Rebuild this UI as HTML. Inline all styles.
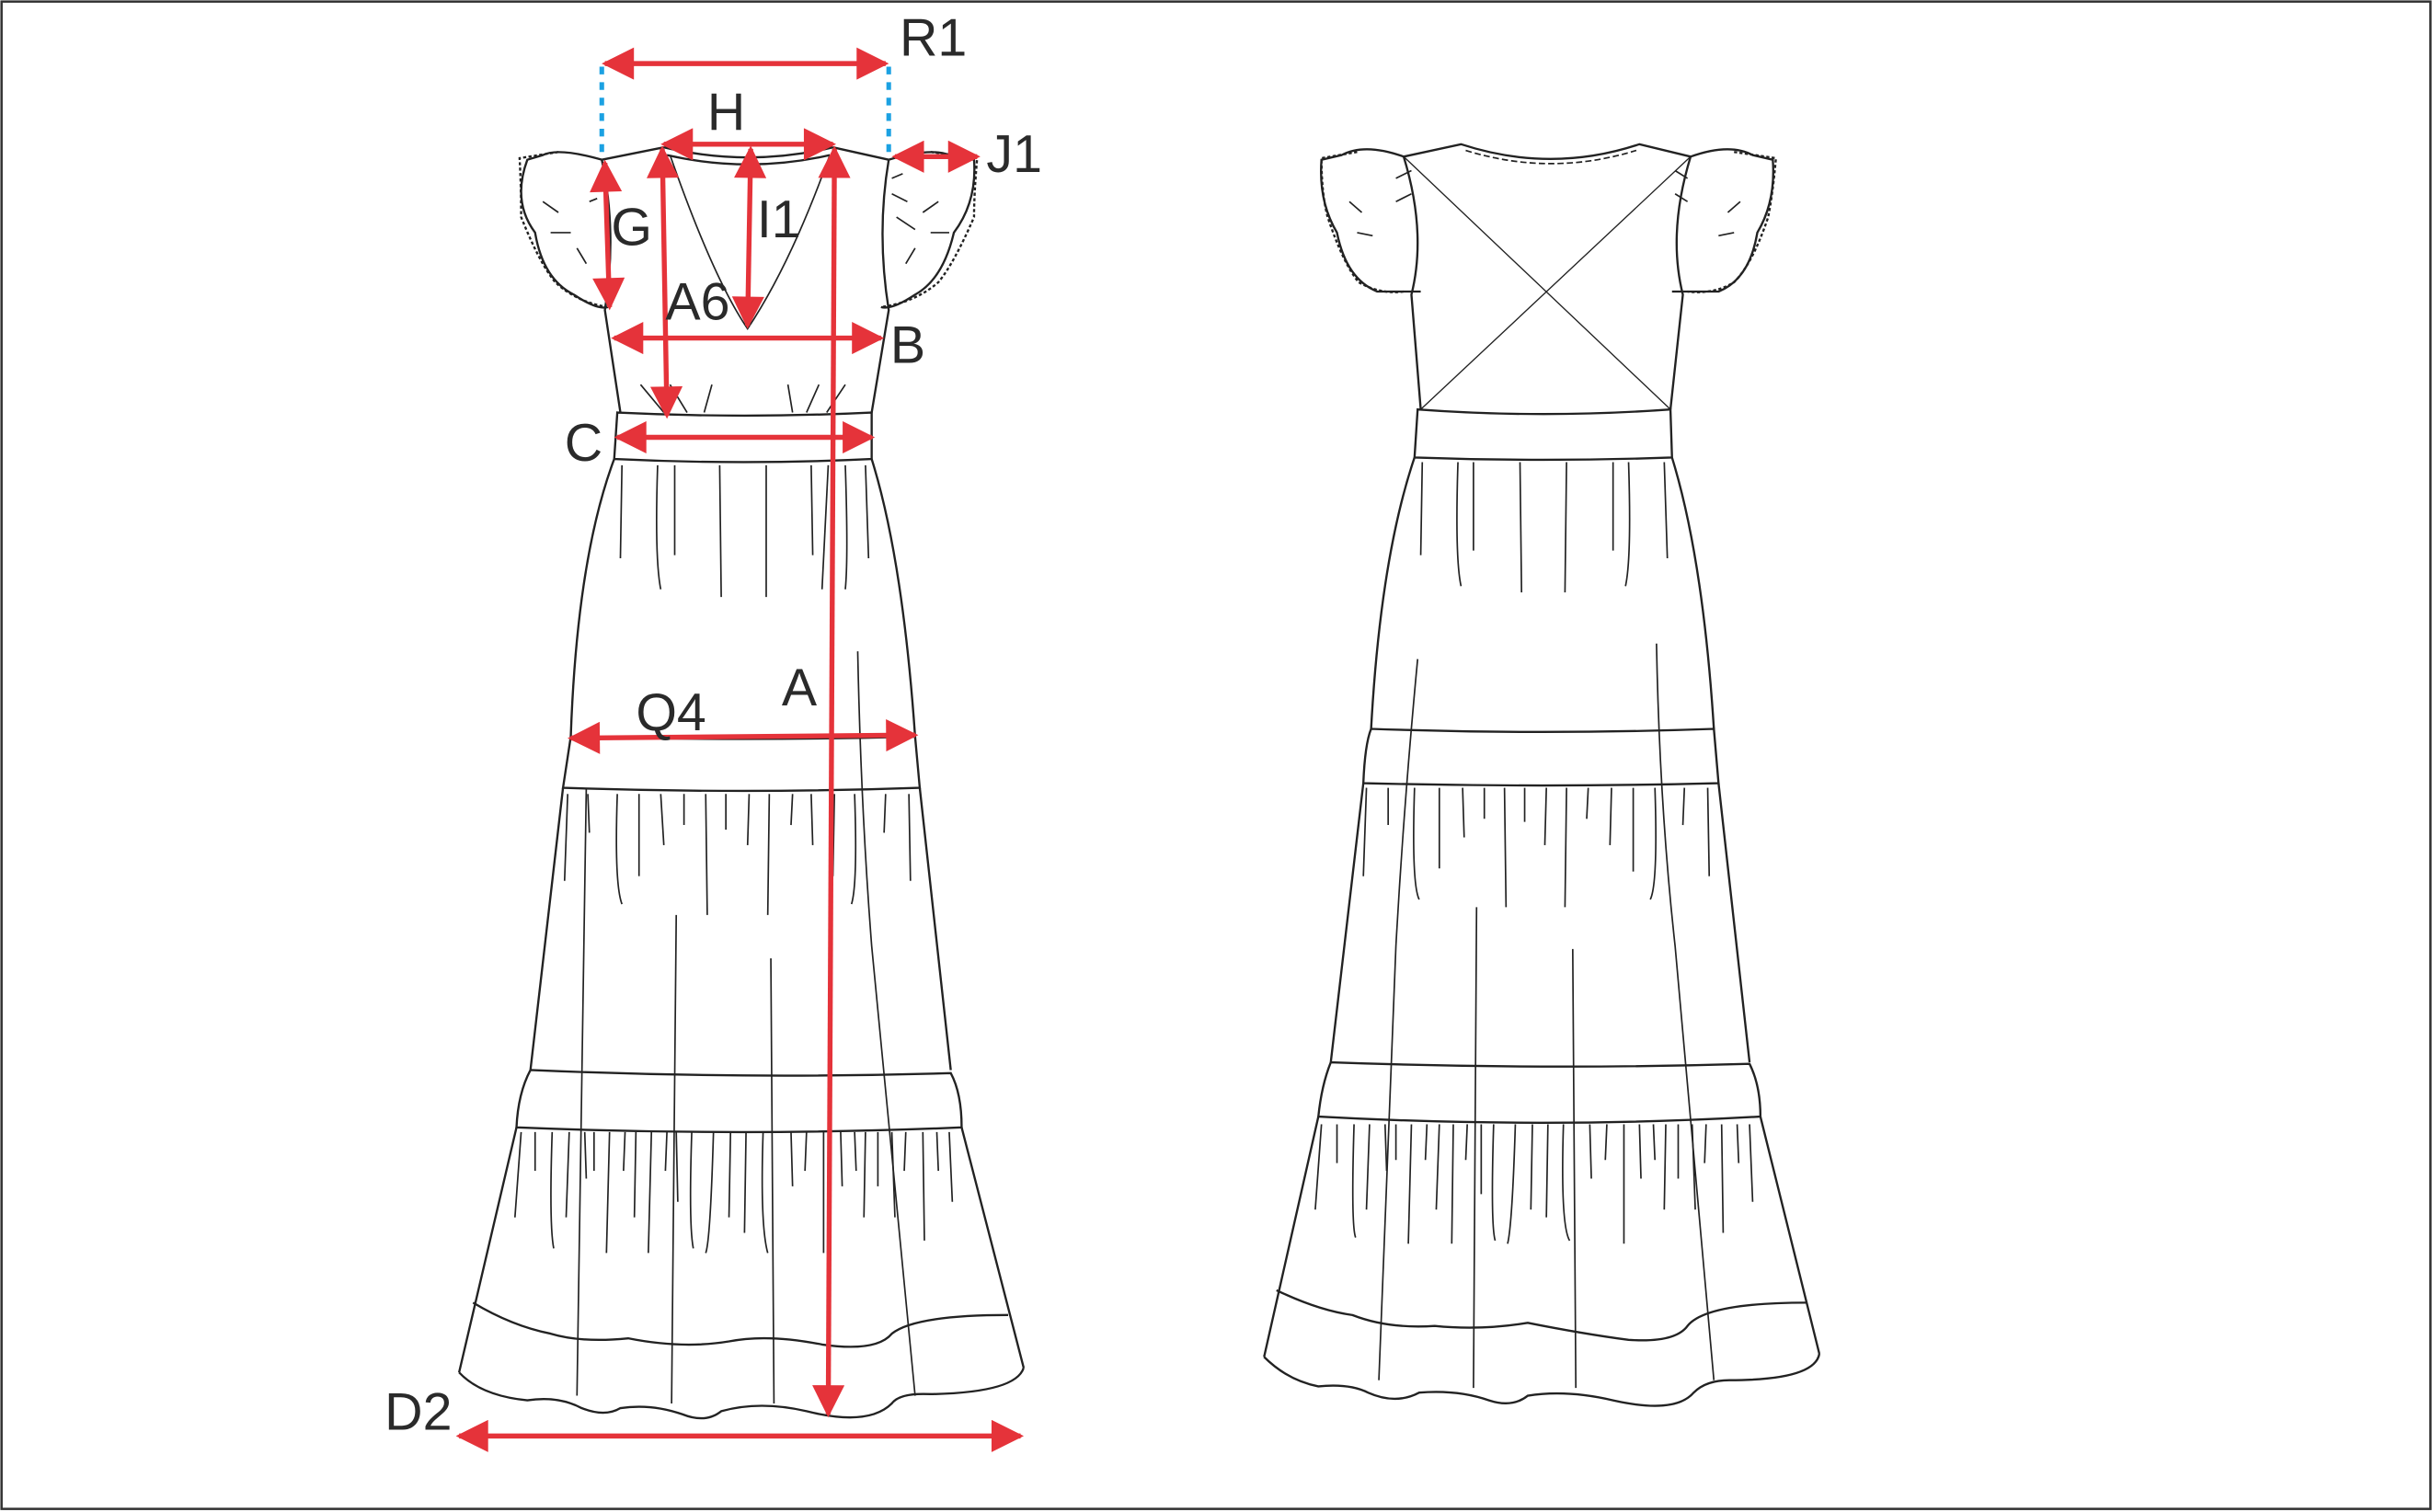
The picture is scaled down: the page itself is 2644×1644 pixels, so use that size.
<!DOCTYPE html>
<html><head><meta charset="utf-8"><style>html,body{margin:0;padding:0;background:#fff}svg{display:block}</style></head>
<body>
<svg width="2644" height="1644" viewBox="0 0 1568 975" preserveAspectRatio="none" xmlns="http://www.w3.org/2000/svg">
<defs>
<marker id="ah" viewBox="0 0 10 10" refX="9" refY="5" markerWidth="7.5" markerHeight="6.5" orient="auto-start-reverse" markerUnits="strokeWidth"><path d="M0,0 L10,5 L0,10 z" fill="#e5333a"/></marker>
</defs>
<rect x="1" y="1" width="1566" height="972" fill="#fff" stroke="#333" stroke-width="1.5"/>
<g fill="none" stroke="#222" stroke-width="1.4">
<path d="M388,103 L428,95 M537,95 L573,103"/>
<path d="M428,95 Q483,108 537,95 M430,100 Q483,112 535,100"/>
<path d="M432,100 Q460,180 482,212 Q510,170 535,100" stroke-width="1"/>
<path d="M388,103 Q398,150 390,200 L400,266 M573,103 Q565,150 573,200 L562,266"/>
<path d="M398,266 Q480,270 562,266 L562,296 Q480,300 396,296 Z"/>
<path d="M396,296 Q372,360 368,475 M562,296 Q582,360 590,475" />
<path d="M368,475 Q480,478 590,475 L593,508 Q480,512 363,508 Z"/>
<path d="M363,508 L342,690 M593,508 L613,690"/>
<path d="M342,690 Q480,696 613,692 Q620,705 620,727 Q480,733 333,727 Q334,705 342,690"/>
<path d="M333,727 L296,885 M620,727 L660,882"/>
<path d="M296,885 Q310,900 340,903 Q360,900 375,908 Q390,914 400,908 Q420,905 440,912 Q455,918 465,910 Q490,903 520,910 Q560,920 575,905 Q580,898 600,899 Q655,898 660,882"/>
<path d="M305,840 Q330,855 355,860 Q375,866 405,863 Q440,870 470,865 Q495,860 530,867 Q565,872 575,860 Q590,848 650,848"/>
<path d="M413,248 L428,266 M432,248 L443,266 M459,248 L454,266 M508,248 L511,266 M528,248 L520,266 M545,248 L533,266" stroke-width="1"/>
<g stroke-width="1">
<path d="M401,300 L400,360 M424,300 Q422,360 426,380 M435,300 L435,358 M464,300 L465,385 M494,300 L494,385 M523,300 L524,358 M545,300 Q547,360 545,380 M558,300 L560,360"/>
<path d="M366,512 L364,568 M379,512 L380,537 M398,512 Q396,570 401,583 M412,512 L412,565 M426,512 L428,545 M441,512 L441,532 M455,512 L456,590 M468,512 L468,535 M483,512 L482,545 M496,512 L495,590 M511,512 L510,532 M523,512 L524,545 M538,512 L537,565 M551,512 Q553,570 549,583 M571,512 L570,537 M586,512 L587,568"/>
<path d="M336,730 L332,785 M345,730 L345,755 M356,730 Q354,790 357,805 M367,730 L365,785 M377,730 L378,760 M383,730 L383,755 M393,730 L391,808 M403,730 L402,755 M410,730 L409,785 M420,730 L418,808 M430,730 L429,755 M436,730 L437,775 M446,730 Q444,790 447,805 M460,730 Q458,800 455,808 M471,730 L470,785 M481,730 L480,795 M492,730 Q490,790 495,808 M510,730 L511,765 M520,730 L519,755 M531,730 L531,808 M542,730 L543,765 M551,730 L552,755 M558,730 L557,785 M566,730 L566,765 M575,730 L577,785 M584,730 L583,755 M595,730 L596,800 M604,730 L605,755 M612,730 L614,775"/>
<path d="M378,508 L372,900 M436,590 L433,905 M497,618 L499,905 M553,420 Q555,520 562,610 L590,900"/>
<path d="M534,300 L530,380"/>
</g>
<path d="M388,103 Q360,95 350,100 L340,103 Q330,130 345,150 Q350,180 370,190 Q385,200 392,198"/>
<path d="M360,98 L335,102 Q336,120 336,140 Q348,170 358,182 Q372,195 392,198" stroke-dasharray="2,1.5"/>
<path d="M573,103 Q600,95 612,100 L628,103 Q630,130 615,150 Q608,180 590,190 Q575,200 568,198"/>
<path d="M600,98 L630,102 Q628,125 628,140 Q615,170 605,182 Q590,195 568,198" stroke-dasharray="2,1.5"/>
<path d="M350,130 L360,137 M355,150 L368,150 M372,160 L378,170 M380,130 L385,128 M605,130 L595,137 M612,150 L600,150 M590,160 L584,170 M575,115 L582,112 M575,125 L585,130 M578,140 L590,148" stroke-width="1"/>
<path d="M905,101 L942,93 Q1000,112 1057,93 L1090,101"/>
<path d="M945,97 Q1000,114 1055,97" stroke-dasharray="4,2" stroke-width="1"/>
<path d="M905,101 Q920,150 910,190 L916,264 M1090,101 Q1075,150 1085,190 L1077,264"/>
<path d="M905,101 L1077,264 M1090,101 L916,264" stroke-width="0.8"/>
<path d="M914,264 Q995,270 1077,264 L1078,295 Q995,298 912,295 Z"/>
<path d="M912,295 Q890,360 884,470 M1078,295 Q1098,360 1105,470"/>
<path d="M884,470 Q995,474 1105,470 L1108,505 Q995,508 879,505 Q880,480 884,470 Z"/>
<path d="M879,505 L858,685 M1108,505 L1128,685"/>
<path d="M858,685 Q995,690 1128,686 Q1135,700 1135,720 Q995,728 850,720 Q852,700 858,685"/>
<path d="M850,720 L815,875 M1135,720 L1173,873"/>
<path d="M815,875 Q830,890 850,894 Q870,892 882,898 Q900,906 915,898 Q940,896 960,903 Q975,908 985,900 Q1010,896 1040,903 Q1080,912 1092,898 Q1100,890 1115,890 Q1170,890 1173,873"/>
<path d="M823,832 Q850,845 872,848 Q895,857 925,855 Q955,858 985,853 Q1020,860 1050,864 Q1080,866 1088,855 Q1100,840 1165,840"/>
<g stroke-width="1">
<path d="M917,298 L916,358 M940,298 Q938,360 942,378 M950,298 L950,355 M980,298 L981,382 M1010,298 L1009,382 M1040,298 L1040,355 M1050,298 Q1052,360 1048,378 M1073,298 L1075,360"/>
<path d="M881,508 L879,565 M895,508 L895,532 M912,508 Q910,570 915,580 M928,508 L928,560 M943,508 L944,540 M957,508 L957,528 M970,508 L971,585 M983,508 L983,530 M997,508 L996,545 M1010,508 L1009,585 M1024,508 L1023,528 M1039,508 L1038,545 M1053,508 L1053,562 M1067,508 Q1069,570 1064,580 M1086,508 L1085,532 M1101,508 L1102,565"/>
<path d="M852,725 L848,780 M862,725 L862,750 M873,725 Q871,790 874,798 M883,725 L881,780 M893,725 L894,755 M900,725 L900,748 M910,725 L908,802 M920,725 L919,748 M928,725 L926,780 M937,725 L936,802 M946,725 L945,748 M955,725 L955,770 M963,725 Q961,790 964,800 M977,725 Q975,790 972,802 M988,725 L987,780 M998,725 L997,785 M1008,725 Q1006,790 1012,800 M1025,725 L1026,760 M1036,725 L1035,748 M1047,725 L1047,802 M1057,725 L1058,760 M1066,725 L1067,748 M1074,725 L1073,780 M1082,725 L1082,760 M1091,725 L1093,780 M1100,725 L1099,750 M1110,725 L1111,795 M1120,725 L1121,750 M1128,725 L1130,775"/>
<path d="M914,425 Q905,520 900,610 L889,890 M952,585 L950,895 M1014,612 L1016,895 M1068,415 Q1070,520 1080,610 L1105,890"/>
</g>
<path d="M905,101 Q880,92 865,100 L852,103 Q850,130 862,150 Q868,180 888,188 L916,188" />
<path d="M875,98 L852,102 Q852,125 856,140 Q866,170 876,182 Q890,190 905,188" stroke-dasharray="2,1.5"/>
<path d="M1090,101 Q1115,92 1130,100 L1143,103 Q1145,130 1133,150 Q1128,180 1108,188 L1078,188"/>
<path d="M1118,98 L1145,102 Q1143,125 1140,140 Q1130,170 1118,182 Q1105,190 1088,188" stroke-dasharray="2,1.5"/>
<path d="M870,130 L878,137 M875,150 L885,152 M900,115 L910,110 M900,130 L910,125 M1122,130 L1114,137 M1118,150 L1108,152 M1088,115 L1080,110 M1088,130 L1080,125" stroke-width="1"/>
</g>
<g stroke="#1ba1e2" stroke-width="3" stroke-dasharray="5,5">
<path d="M388,43 L388,103 M573,43 L573,103"/>
</g>
<g stroke="#e5333a" stroke-width="3.2" marker-start="url(#ah)" marker-end="url(#ah)" fill="none">
<path d="M390,41 L571,41"/>
<path d="M428,93 L537,93"/>
<path d="M577,101 L630,101"/>
<path d="M484,96 L482,210"/>
<path d="M390,105 L393,198"/>
<path d="M427,96 L430,268"/>
<path d="M396,218 L568,218"/>
<path d="M398,282 L562,282"/>
<path d="M538,96 L534,912"/>
<path d="M368,476 L590,474"/>
<path d="M296,926 L658,926"/>
</g>
<g font-family="Liberation Sans, sans-serif" font-size="34" fill="#2a2a2a">
<text x="580" y="36">R1</text>
<text x="456" y="84">H</text>
<text x="636" y="111">J1</text>
<text x="488" y="153">I1</text>
<text x="394" y="158">G</text>
<text x="429" y="206">A6</text>
<text x="574" y="234">B</text>
<text x="364" y="297">C</text>
<text x="504" y="455">A</text>
<text x="410" y="471">Q4</text>
<text x="248" y="922">D2</text>
</g>
</svg>
</body></html>
